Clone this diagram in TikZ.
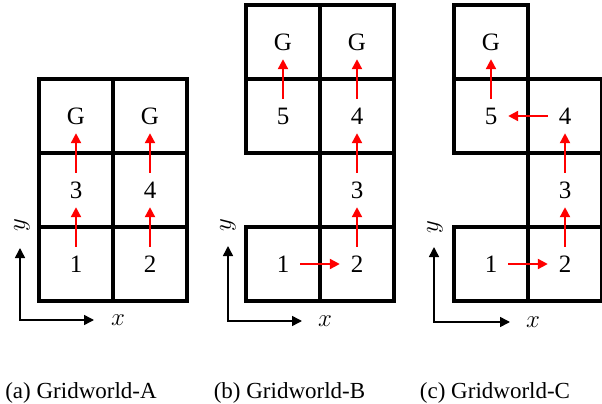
\documentclass[tikz,border=0pt]{standalone}
\usepackage{fontspec}
\setmainfont{Liberation Serif}
\usetikzlibrary{arrows.meta}
\begin{document}
\begin{tikzpicture}[x=1pt,y=-1pt,
  cell/.style={line width=3.2pt},
  state/.style={inner sep=0pt,minimum width=34pt,minimum height=34pt,font=\fontsize{25}{29}\selectfont},
  move/.style={red,line width=2.2pt,-{Triangle[length=10pt,width=10pt]}},
  axis/.style={line width=1.5pt,{Triangle[length=10pt,width=10pt]}-{Triangle[length=10pt,width=10pt]}},
  lab/.style={font=\fontsize{27}{30}\selectfont},
  caption/.style={anchor=base,font=\fontsize{23}{27}\selectfont}]
\useasboundingbox (0,0) rectangle (602,404);
% cases
\foreach \x/\y in {39/79,113/79,39/153,113/153,39/227,113/227}
  \draw[cell] (\x,\y) rectangle ++(74,74);
\foreach \x/\y in {246/5,320/5,246/79,320/79,320/153,246/227,320/227}
  \draw[cell] (\x,\y) rectangle ++(74,74);
\foreach \x/\y in {454/5,454/79,528/79,528/153,454/227,528/227}
  \draw[cell] (\x,\y) rectangle ++(74,74);
% Gridworld-A
\node[state] (aG1) at (76,116) {G};
\node[state] (aG2) at (150,116) {G};
\node[state] (a3) at (76,190) {3};
\node[state] (a4) at (150,190) {4};
\node[state] (a1) at (76,264) {1};
\node[state] (a2) at (150,264) {2};
\draw[move] (a1) -- (a3);
\draw[move] (a3) -- (aG1);
\draw[move] (a2) -- (a4);
\draw[move] (a4) -- (aG2);
% Gridworld-B
\node[state] (bG1) at (283,42) {G};
\node[state] (bG2) at (357,42) {G};
\node[state] (b5) at (283,116) {5};
\node[state] (b4) at (357,116) {4};
\node[state] (b3) at (357,190) {3};
\node[state] (b1) at (283,264) {1};
\node[state] (b2) at (357,264) {2};
\draw[move] (b1) -- (b2);
\draw[move] (b2) -- (b3);
\draw[move] (b3) -- (b4);
\draw[move] (b4) -- (bG2);
\draw[move] (b5) -- (bG1);
% Gridworld-C
\node[state] (cG) at (491,42) {G};
\node[state] (c5) at (491,116) {5};
\node[state] (c4) at (565,116) {4};
\node[state] (c3) at (565,190) {3};
\node[state] (c1) at (491,264) {1};
\node[state] (c2) at (565,264) {2};
\draw[move] (c1) -- (c2);
\draw[move] (c2) -- (c3);
\draw[move] (c3) -- (c4);
\draw[move] (c4) -- (c5);
\draw[move] (c5) -- (cG);
% axes
\coordinate (ay) at (20,248);
\coordinate (ax) at (94,320);
\draw[axis] (ay) |- (ax);
\node[lab] (axx) at (118,320) {$x$};
\node[lab,rotate=90] (axy) at (22,225) {$y$};
\coordinate (by) at (228,246);
\coordinate (bx) at (302,321);
\draw[axis] (by) |- (bx);
\node[lab] (bxx) at (325,321) {$x$};
\node[lab,rotate=90] (bxy) at (228,225) {$y$};
\coordinate (cy) at (434,247);
\coordinate (cx) at (510,322);
\draw[axis] (cy) |- (cx);
\node[lab] (cxx) at (533,322) {$x$};
\node[lab,rotate=90] (cxy) at (435,227) {$y$};
% legendes
\node[caption] (capa) at (81,398) {(a) Gridworld-A};
\node[caption] (capb) at (289.5,398) {(b) Gridworld-B};
\node[caption] (capc) at (495,398) {(c) Gridworld-C};
\end{tikzpicture}
\end{document}
